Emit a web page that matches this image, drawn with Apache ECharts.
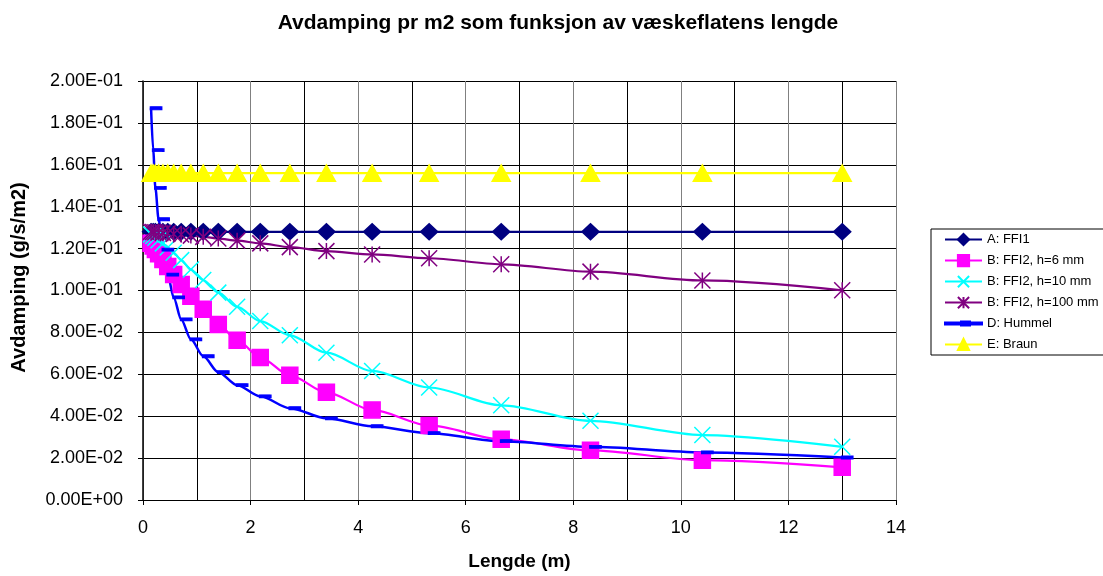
<!DOCTYPE html>
<html>
<head>
<meta charset="utf-8">
<script src="https://cdn.jsdelivr.net/npm/echarts@6/dist/echarts.min.js"></script>
<style>
  html, body { margin: 0; padding: 0; background: #fff; }
  #chart { width: 1103px; height: 576px; }
</style>
</head>
<body>
<div id="chart"></div>
<script>
// Liquid surface length (m) at which each evaporation rate was computed
const lengths = [0.15, 0.19, 0.23, 0.29, 0.37, 0.46, 0.57, 0.71, 0.89, 1.12, 1.40,
                 1.75, 2.18, 2.73, 3.41, 4.26, 5.32, 6.66, 8.32, 10.4, 13];

// Evaporation per m2 (g/s/m2) for each model
const ffi1 = [0.128, 0.128, 0.128, 0.128, 0.128, 0.128, 0.128, 0.128, 0.128, 0.128, 0.128,
              0.128, 0.128, 0.128, 0.128, 0.128, 0.128, 0.128, 0.128, 0.128, 0.128];
const ffi2h6 = [0.1225, 0.1212, 0.1196, 0.1175, 0.1148, 0.1115, 0.1076, 0.1029, 0.0973, 0.091, 0.0838,
                0.0763, 0.068, 0.0595, 0.0514, 0.043, 0.0356, 0.029, 0.0237, 0.019, 0.0156];
const ffi2h10 = [0.1267, 0.126, 0.1252, 0.124, 0.1225, 0.1205, 0.118, 0.1145, 0.110, 0.105, 0.099,
                 0.0922, 0.0854, 0.0786, 0.0703, 0.0616, 0.0537, 0.0452, 0.0378, 0.031, 0.0254];
const ffi2h100 = [0.128, 0.1279, 0.1278, 0.1277, 0.1275, 0.1273, 0.127, 0.1267, 0.1262, 0.1256, 0.1248,
                  0.1238, 0.1225, 0.1207, 0.1188, 0.1172, 0.1154, 0.1125, 0.109, 0.1048, 0.1001];
const hummel = [0.187, 0.167, 0.149, 0.134, 0.1195, 0.1076, 0.0967, 0.0862, 0.0767, 0.0686, 0.061,
                0.0548, 0.0495, 0.0438, 0.039, 0.0352, 0.0319, 0.0281, 0.0254, 0.0227, 0.0203];
const braun = [0.156, 0.156, 0.156, 0.156, 0.156, 0.156, 0.156, 0.156, 0.156, 0.156, 0.156,
               0.156, 0.156, 0.156, 0.156, 0.156, 0.156, 0.156, 0.156, 0.156, 0.156];

const seriesNames = ['A: FFI1', 'B: FFI2, h=6 mm', 'B: FFI2, h=10 mm', 'B: FFI2, h=100 mm', 'D: Hummel', 'E: Braun'];

const FONT = 'Liberation Sans, Arial, sans-serif';

// Tick labels like 1.20E-01
function sci(v) {
  if (Math.abs(v) < 1e-12) return '0.00E+00';
  const parts = v.toExponential(2).split('e');
  const n = parseInt(parts[1], 10);
  return parts[0] + 'E' + (n < 0 ? '-' : '+') + String(Math.abs(n)).padStart(2, '0');
}

function pairs(ys) { return lengths.map((x, i) => [x, ys[i]]); }

const CROSS = 'path://M0,0L20,20M20,0L0,20';
const STAR = 'path://M10,0L10,20M0,0L20,20M20,0L0,20';
// legend key for the dash-marked series: a line with a short thick dash in the middle
const DASH_KEY = 'path://M0,1L37,1L37,3L0,3Z M16,0L25,0L25,4L16,4Z';

function lineSeries(name, ys, color, symbol, size, extra) {
  return Object.assign({
    name: name,
    type: 'line',
    data: pairs(ys),
    symbol: symbol,
    symbolSize: size,
    showSymbol: true,
    smooth: 0.3,
    smoothMonotone: 'x',
    lineStyle: { color: color, width: 2.2 },
    itemStyle: { color: color, borderColor: color, borderWidth: 1.5 },
    emphasis: { disabled: true },
    animation: false
  }, extra || {});
}

const chart = echarts.init(document.getElementById('chart'), null, { renderer: 'canvas' });

chart.setOption({
  animation: false,
  backgroundColor: '#fff',
  title: {
    text: 'Avdamping pr m2 som funksjon av væskeflatens lengde',
    left: 553, top: 8, textAlign: 'center',
    textStyle: { fontFamily: FONT, fontSize: 21, fontWeight: 'bold', color: '#000' }
  },
  legend: {
    orient: 'vertical',
    left: 931, top: 229,
    data: seriesNames.map((n, i) => i === 4 ? { name: n, icon: DASH_KEY } : { name: n }),
    itemWidth: 37, itemHeight: 14, itemGap: 7.8,
    padding: [4, 10, 4, 13],
    borderColor: '#000', borderWidth: 1,
    textStyle: { fontFamily: FONT, fontSize: 13, color: '#000' },
    selectedMode: false
  },
  grid: { left: 143, right: 207, top: 81, bottom: 75, containLabel: false },
  xAxis: {
    type: 'value', min: 0, max: 14, interval: 2,
    name: 'Lengde (m)', nameLocation: 'middle', nameGap: 52,
    nameTextStyle: { fontFamily: FONT, fontSize: 19, fontWeight: 'bold', color: '#000' },
    axisLine: { show: true, onZero: false, lineStyle: { color: '#000', width: 1 } },
    axisTick: { show: true, inside: false, length: 5, lineStyle: { color: '#000' } },
    axisLabel: { fontFamily: FONT, fontSize: 18, color: '#000', margin: 19 },
    splitLine: { show: true, lineStyle: { color: '#808080', width: 1 } },
    minorTick: { show: false, splitNumber: 2 },
    minorSplitLine: { show: true, lineStyle: { color: '#000', width: 1 } }
  },
  yAxis: {
    type: 'value', min: 0, max: 0.2, interval: 0.02,
    name: 'Avdamping (g/s/m2)', nameLocation: 'middle', nameGap: 114, nameRotate: 90,
    nameTextStyle: { fontFamily: FONT, fontSize: 20, fontWeight: 'bold', color: '#000', padding: [0, 0, 0, 26] },
    axisLine: { show: true, lineStyle: { color: '#000', width: 1.5 } },
    axisTick: { show: true, inside: false, length: 5, lineStyle: { color: '#000' } },
    axisLabel: { fontFamily: FONT, fontSize: 18, color: '#000', margin: 20, formatter: sci },
    splitLine: { show: true, lineStyle: { color: '#000', width: 1 } }
  },
  series: [
    lineSeries(seriesNames[0], ffi1, '#000080', 'diamond', [17, 16]),
    lineSeries(seriesNames[1], ffi2h6, '#FF00FF', 'rect', 16),
    lineSeries(seriesNames[2], ffi2h10, '#00FFFF', CROSS, 16),
    lineSeries(seriesNames[3], ffi2h100, '#800080', STAR, 16),
    lineSeries(seriesNames[4], hummel, '#0000FF', 'rect', [10, 3], { symbolOffset: [5, 0], lineStyle: { color: '#0000FF', width: 2.5 } }),
    lineSeries(seriesNames[5], braun, '#FFFF00', 'triangle', [18, 16])
  ]
});
</script>
</body>
</html>
